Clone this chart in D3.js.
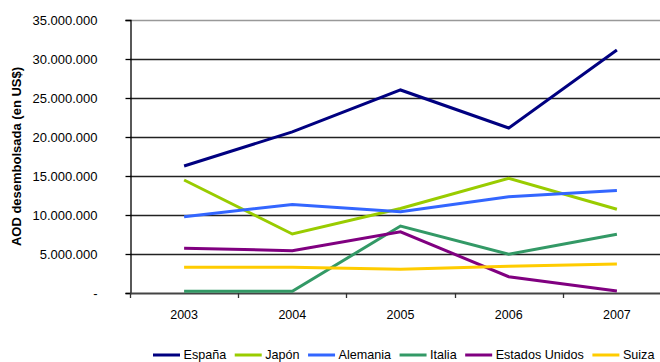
<!DOCTYPE html>
<html><head><meta charset="utf-8">
<script src="https://cdn.jsdelivr.net/npm/d3@7/dist/d3.min.js"></script>
<style>body{margin:0;background:#fff}svg{display:block;font-family:"Liberation Sans",Arial,sans-serif}</style>
</head><body><svg id="c" width="660" height="362"></svg>
<script>
const years = ["2003","2004","2005","2006","2007"];
const espana   = [16280000, 20650000, 26030000, 21150000, 31150000];
const japon    = [14490000, 7560000, 10830000, 14700000, 10740000];
const alemania = [9790000, 11360000, 10430000, 12330000, 13130000];
const italia   = [220000, 220000, 8590000, 4970000, 7520000];
const eeuu     = [5730000, 5430000, 7850000, 2090000, 260000];
const suiza    = [3310000, 3310000, 3030000, 3420000, 3720000];
const seriesNames = ["España","Japón","Alemania","Italia","Estados Unidos","Suiza"];
const seriesColors = ["#000080","#99CC00","#3366FF","#339966","#800080","#FFCC00"];
const yTicks = [0,5000000,10000000,15000000,20000000,25000000,30000000,35000000];
const yTitle = "AOD desembolsada (en US$)";

const series = [espana, japon, alemania, italia, eeuu, suiza].map((v,i)=>({name:seriesNames[i], color:seriesColors[i], values:v}));

const svg = d3.select("#c");
const m = {left:130, top:20, right:671, bottom:293};
const x = d3.scaleBand().domain(years).range([m.left, m.right]);
const y = d3.scaleLinear().domain([0, 35000000]).range([m.bottom, m.top]);
const fmt = v => v === 0 ? "-" : d3.format(",")(v).replace(/,/g, ".");

// gridlines
svg.append("g").selectAll("line").data(yTicks.filter(t=>t>0)).join("line")
  .attr("x1", m.left).attr("x2", 660)
  .attr("y1", d=>Math.round(y(d))+0.5).attr("y2", d=>Math.round(y(d))+0.5)
  .attr("stroke", d=> d===35000000 ? "#999" : "#222").attr("stroke-width", 1.3);

// y axis
const ya = svg.append("g").attr("transform", `translate(${m.left+0.5},0)`)
  .call(d3.axisLeft(y).tickValues(yTicks).tickFormat(fmt).tickSize(5).tickPadding(28));
ya.select(".domain").attr("stroke","#000").attr("stroke-width",1.3);
ya.selectAll(".tick line").attr("stroke","#000").attr("stroke-width",1.3);
ya.selectAll("text").attr("font-size",13).attr("fill","#000").attr("font-family","Liberation Sans, Arial, sans-serif");

// x axis
const xa = svg.append("g").attr("transform", `translate(0,${m.bottom})`)
  .call(d3.axisBottom(x).tickSize(0).tickPadding(17));
xa.select(".domain").remove();
xa.selectAll("text").attr("font-size",12.5).attr("fill","#000").attr("font-family","Liberation Sans, Arial, sans-serif");
svg.append("line").attr("x1", m.left).attr("x2", 660).attr("y1", m.bottom+0.5).attr("y2", m.bottom+0.5)
  .attr("stroke","#444").attr("stroke-width",2);
svg.append("g").selectAll("line").data(years).join("line")
  .attr("x1", d=>Math.round(x(d))+0.5).attr("x2", d=>Math.round(x(d))+0.5)
  .attr("y1", m.bottom).attr("y2", m.bottom+5).attr("stroke","#333").attr("stroke-width",1.3);

// y title
svg.append("text").attr("transform", `translate(21,${(m.top+m.bottom)/2}) rotate(-90)`)
  .attr("text-anchor","middle").attr("font-size",13).attr("font-weight","bold").text(yTitle);

// lines
const line = d3.line().x((d,i)=>x(years[i])+x.bandwidth()/2).y(d=>y(d));
svg.append("g").selectAll("path").data(series).join("path")
  .attr("d", d=>line(d.values)).attr("fill","none")
  .attr("stroke", d=>d.color).attr("stroke-width",3).attr("stroke-linejoin","miter");

// legend
const lg = svg.append("g").attr("transform","translate(153,355)");
let cx = 0;
series.forEach(s=>{
  const g = lg.append("g").attr("transform",`translate(${cx},0)`);
  g.append("line").attr("x1",0).attr("x2",27).attr("y1",0).attr("y2",0).attr("stroke",s.color).attr("stroke-width",3);
  const t = g.append("text").attr("x",30.5).attr("y",0).attr("dy","0.35em").attr("font-size",12.6).text(s.name);
  cx += 30.5 + t.node().getComputedTextLength() + 8.5;
});
</script></body></html>
